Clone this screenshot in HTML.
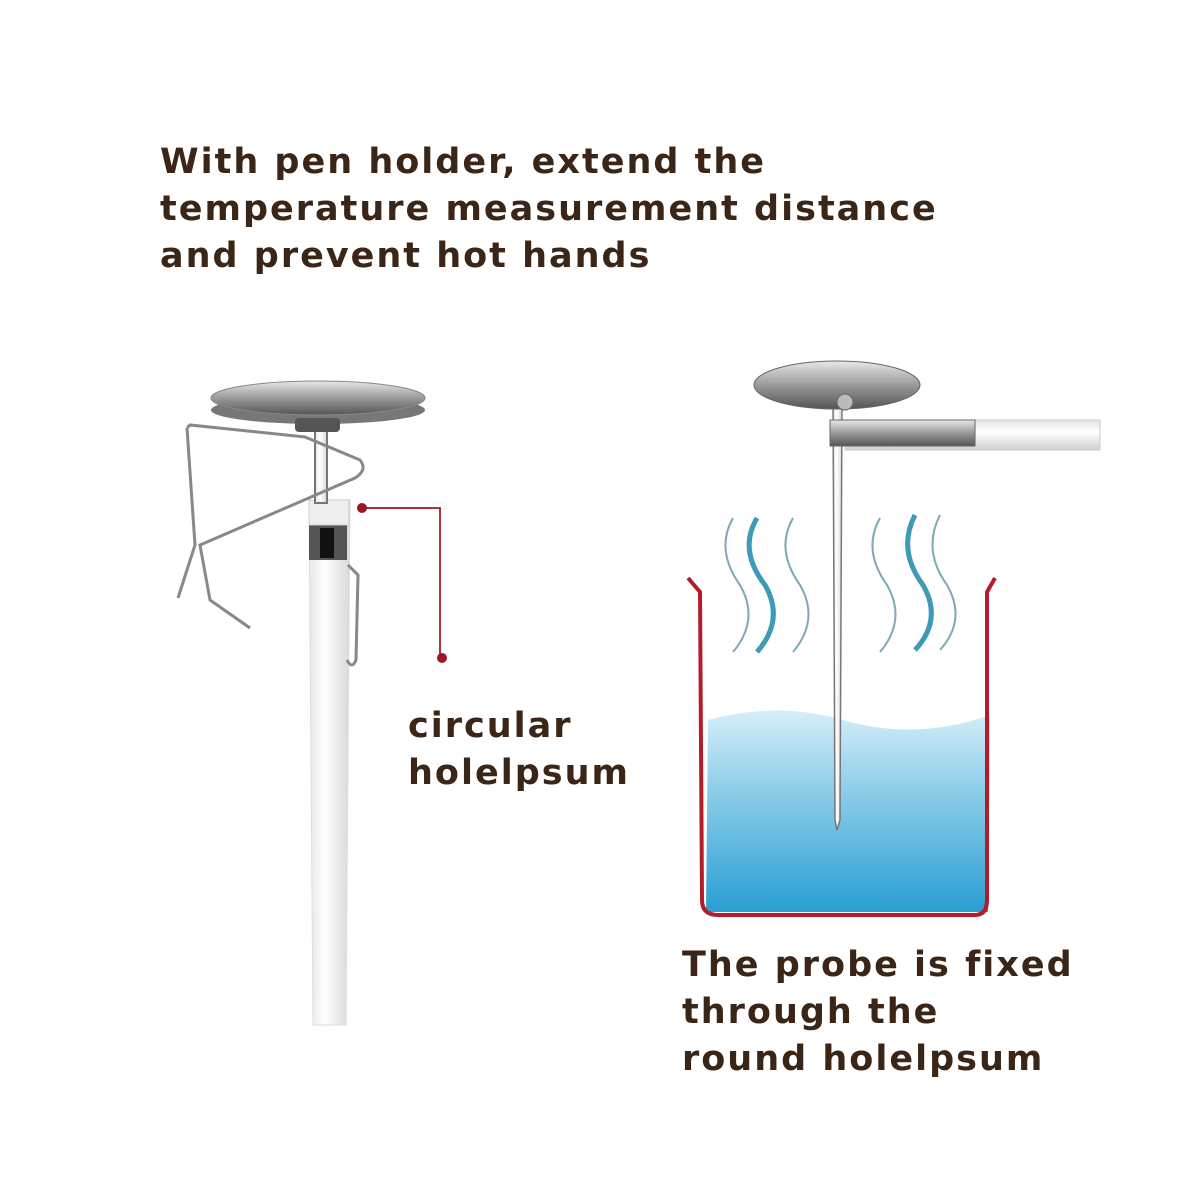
<!DOCTYPE html>
<html><head><style>
body{margin:0;background:#fff;}
.t{position:absolute;font-family:"DejaVu Sans",sans-serif;font-weight:bold;color:#3b2516;font-size:35px;line-height:47px;letter-spacing:2px;}
</style></head><body>
<div style="position:relative;width:1200px;height:1200px;overflow:hidden">
<svg width="1200" height="1200" style="position:absolute;left:0;top:0">
<defs>
<linearGradient id="met" x1="0" x2="0" y1="0" y2="1"><stop offset="0" stop-color="#e8e8e8"/><stop offset="0.5" stop-color="#9a9a9a"/><stop offset="1" stop-color="#555"/></linearGradient>
<linearGradient id="tube" x1="0" x2="1"><stop offset="0" stop-color="#e6e6e6"/><stop offset="0.4" stop-color="#fff"/><stop offset="1" stop-color="#d8d8d8"/></linearGradient>
<linearGradient id="tubeh" x1="0" x2="0" y1="0" y2="1"><stop offset="0" stop-color="#e4e4e4"/><stop offset="0.4" stop-color="#fff"/><stop offset="1" stop-color="#cfcfcf"/></linearGradient>
<linearGradient id="wat" x1="0" x2="0" y1="0" y2="1"><stop offset="0" stop-color="#d6eef9"/><stop offset="0.4" stop-color="#8ccde9"/><stop offset="1" stop-color="#2a9fd4"/></linearGradient>
</defs>
<path d="M309 500 L350 500 L346 1025 L313 1025 Z" fill="url(#tube)" stroke="#ddd"/>
<rect x="309" y="525" width="38" height="35" fill="#555"/>
<rect x="320" y="528" width="14" height="30" fill="#111"/>
<rect x="309" y="500" width="40" height="25" fill="#eee" stroke="#ccc"/>
<path d="M348 565 L358 575 L356 660 Q352 670 347 660" fill="none" stroke="#888" stroke-width="3"/>
<rect x="315" y="425" width="12" height="78" fill="url(#tube)" stroke="#777" stroke-width="2"/>
<ellipse cx="318" cy="410" rx="107" ry="14" fill="#777"/>
<ellipse cx="318" cy="398" rx="107" ry="17" fill="url(#met)" stroke="#888"/>
<rect x="295" y="418" width="45" height="14" rx="4" fill="#555"/>
<path d="M187 428 L190 425 L305 437 L360 460 Q368 470 355 478 L200 545 L210 600 L250 628" fill="none" stroke="#888" stroke-width="3"/>
<path d="M187 428 L195 545 L178 598" fill="none" stroke="#888" stroke-width="3"/>
<path d="M362 508 L440 508 L440 658" fill="none" stroke="#b03040" stroke-width="2"/>
<circle cx="362" cy="508" r="5" fill="#a01525"/><circle cx="442" cy="658" r="5" fill="#a01525"/>
<path d="M708 720 Q780 700 850 722 Q920 740 990 715 L988 912 L706 912 Z" fill="url(#wat)"/>
<path d="M688 578 L700 592 L702 900 Q702 915 718 915 L975 915 Q987 915 987 900 L987 592 L995 578" fill="none" stroke="#b51c2a" stroke-width="4"/>
<g fill="none" stroke="#7fa9b5" stroke-width="2">
<path d="M733 518 Q715 550 740 585 Q760 620 733 652"/>
<path d="M793 518 Q775 550 800 585 Q820 620 793 652"/>
<path d="M880 518 Q862 550 887 585 Q907 620 880 652"/>
<path d="M940 515 Q922 550 947 585 Q967 620 940 650"/>
</g>
<g fill="none" stroke="#3f9ab8" stroke-width="5">
<path d="M757 518 Q738 550 765 585 Q785 620 757 652"/>
<path d="M915 515 Q897 550 923 585 Q943 620 915 650"/>
</g>
<path d="M833 400 L842 400 L840 820 L837 830 L835 820 Z" fill="url(#tube)" stroke="#777" stroke-width="1.5"/>
<rect x="845" y="420" width="255" height="30" fill="url(#tubeh)" stroke="#ccc"/>
<rect x="830" y="420" width="145" height="26" fill="url(#met)" stroke="#666"/>
<ellipse cx="837" cy="385" rx="83" ry="24" fill="url(#met)" stroke="#666"/>
<circle cx="845" cy="402" r="8" fill="#bbb" stroke="#666"/>
</svg>
<div class="t" style="left:160px;top:139px">With pen holder, extend the<br>temperature measurement distance<br>and prevent hot hands</div>
<div class="t" style="left:408px;top:703px">circular<br>holelpsum</div>
<div class="t" style="left:682px;top:942px">The probe is fixed<br>through the<br>round holelpsum</div>
</div>
</body></html>
